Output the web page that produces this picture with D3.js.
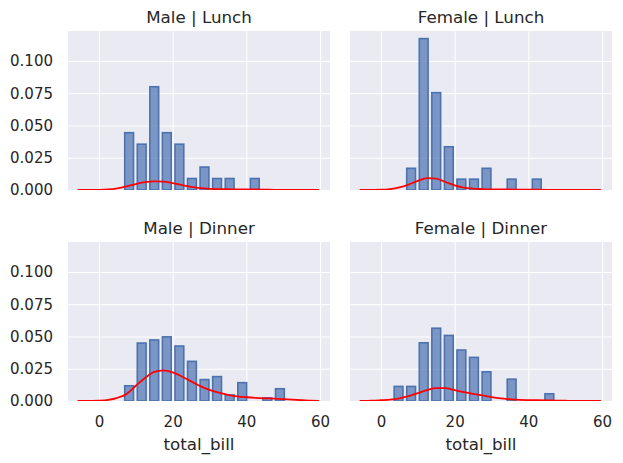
<!DOCTYPE html>
<html>
<head>
<meta charset="utf-8">
<script src="https://cdn.jsdelivr.net/npm/d3@7"></script>
<style>
  body { margin: 0; background: #fff; }
  svg { font-family: "DejaVu Sans", sans-serif; }
</style>
</head>
<body>
<script>
// facets: sex x time
var sexes = ["Male", "Female"];
var times = ["Lunch", "Dinner"];

// shared histogram bin edges for total_bill
var binEdges = [3.07, 6.48, 9.89, 13.30, 16.71, 20.12, 23.53, 26.94, 30.35, 33.76, 37.17, 40.58, 43.99, 47.40, 50.81];

// density of each bin, per facet
var maleLunch    = [0, 0.0444, 0.0355, 0.0800, 0.0444, 0.0355, 0.0089, 0.0178, 0.0089, 0.0089, 0, 0.0089, 0, 0];
var femaleLunch  = [0, 0.0168, 0.1173, 0.0754, 0.0335, 0.0084, 0.0084, 0.0168, 0, 0.0084, 0, 0.0084, 0, 0];
var maleDinner   = [0, 0.0118, 0.0449, 0.0473, 0.0497, 0.0426, 0.0307, 0.0166, 0.0189, 0.0047, 0.0142, 0, 0.0024, 0.0095];
var femaleDinner = [0.0113, 0.0113, 0.0451, 0.0564, 0.0508, 0.0395, 0.0338, 0.0226, 0, 0.0169, 0, 0, 0.0056, 0];

var kdeX = [-5.8, -2.5, 0, 2.5, 5, 7.5, 10, 12.5, 15, 17.5, 20, 22.5, 25, 27.5, 30, 32.5, 35, 37.5, 40, 42.5, 45, 47.5, 50, 52.5, 55, 57.5, 59.7];
var kdeMaleLunch    = [0, 0.00005, 0.0001, 0.0004, 0.0013, 0.0028, 0.0046, 0.0061, 0.0067, 0.0065, 0.0054, 0.0038, 0.0024, 0.0014, 0.0009, 0.0007, 0.0006, 0.0005, 0.0004, 0.0004, 0.0003, 0.0001, 0.00005, 0, 0, 0, 0];
var kdeFemaleLunch  = [0, 0.0001, 0.0002, 0.0007, 0.0020, 0.0042, 0.0070, 0.0092, 0.0088, 0.0062, 0.0036, 0.0018, 0.0010, 0.0007, 0.0005, 0.0004, 0.0004, 0.0003, 0.0003, 0.0002, 0.0001, 0.00005, 0, 0, 0, 0, 0];
var kdeMaleDinner   = [0, 0.0001, 0.0003, 0.0009, 0.0025, 0.0055, 0.0118, 0.0178, 0.0225, 0.0237, 0.0222, 0.0190, 0.0152, 0.0115, 0.0086, 0.0064, 0.0048, 0.0036, 0.0029, 0.0024, 0.0021, 0.0019, 0.0015, 0.0010, 0.0006, 0.0003, 0.0001];
var kdeFemaleDinner = [0.00003, 0.0002, 0.0006, 0.0011, 0.0021, 0.0037, 0.0061, 0.0085, 0.0100, 0.0100, 0.0084, 0.0068, 0.0055, 0.0043, 0.0030, 0.0020, 0.0014, 0.0009, 0.0007, 0.0006, 0.0005, 0.0003, 0.0002, 0.0001, 0.00005, 0, 0];

var xTicks = [0, 20, 40, 60];
var yTicks = [0, 0.025, 0.05, 0.075, 0.1];
var xLabel = "total_bill";

var hist = { Male: { Lunch: maleLunch, Dinner: maleDinner }, Female: { Lunch: femaleLunch, Dinner: femaleDinner } };
var kde  = { Male: { Lunch: kdeMaleLunch, Dinner: kdeMaleDinner }, Female: { Lunch: kdeFemaleLunch, Dinner: kdeFemaleDinner } };

var colX = [68, 350], rowY = [31, 242];
var w = 262, h = 159;
var textColor = "#262626";

var svg = d3.select("body").append("svg").attr("width", 623).attr("height", 463);

var x = d3.scaleLinear().domain([-8.4, 62.7]).range([0, w]);
var y = d3.scaleLinear().domain([0, 0.1232]).range([h, 0]);

var line = d3.line()
    .x(function(d){ return x(d[0]); })
    .y(function(d){ return y(d[1]); })
    .curve(d3.curveMonotoneX);

var barFrac = 0.7;

times.forEach(function(time, r){
  sexes.forEach(function(sex, c){
    var id = "clip" + r + c;
    var g = svg.append("g").attr("transform", "translate(" + colX[c] + "," + rowY[r] + ")");

    g.append("clipPath").attr("id", id).append("rect").attr("width", w).attr("height", h);
    g.append("rect").attr("width", w).attr("height", h).attr("fill", "#EAEAF2");

    // grid + tick labels
    var ax = g.append("g").attr("transform", "translate(0," + h + ")")
        .call(d3.axisBottom(x).tickValues(xTicks).tickSize(-h).tickPadding(15).tickFormat(d3.format("d")));
    var ay = g.append("g")
        .call(d3.axisLeft(y).tickValues(yTicks).tickSize(-w).tickPadding(15).tickFormat(d3.format(".3f")));
    [ax, ay].forEach(function(a){
      a.select(".domain").remove();
      a.selectAll("line").attr("stroke", "#fff").attr("stroke-width", 1);
      a.selectAll("text").attr("fill", textColor).style("font-size", "15px").style("font-family", "DejaVu Sans");
    });
    if (r === 0) ax.selectAll("text").remove();
    if (c === 1) ay.selectAll("text").remove();

    var plot = g.append("g").attr("clip-path", "url(#" + id + ")");

    // keep the bin edges with each value so empty bins can be skipped
    var bins = hist[sex][time].map(function(v, i){ return { lo: binEdges[i], hi: binEdges[i + 1], v: v }; })
        .filter(function(b){ return b.v > 0; });

    plot.selectAll("rect.bar").data(bins).enter()
      .append("rect").attr("class", "bar")
      .attr("x", function(b){
        var mid = (b.lo + b.hi) / 2, bw = b.hi - b.lo;
        return x(mid - bw * barFrac / 2);
      })
      .attr("width", function(b){ return (x(b.hi) - x(b.lo)) * barFrac; })
      .attr("y", function(b){ return y(b.v); })
      .attr("height", function(b){ return h - y(b.v); })
      .attr("fill", "#4C72B0").attr("fill-opacity", 0.7)
      .attr("stroke", "#4C72B0").attr("stroke-width", 1.6);

    var pts = kdeX.map(function(v, i){ return [v, kde[sex][time][i]]; });
    plot.append("path").attr("d", line(pts))
      .attr("fill", "none").attr("stroke", "red").attr("stroke-width", 1.8);

    g.append("text").attr("x", w / 2).attr("y", -8.5).attr("text-anchor", "middle")
      .attr("fill", textColor).style("font-size", "16.7px")
      .text(sex + " | " + time);

    if (r === 1) {
      g.append("text").attr("x", w / 2).attr("y", h + 49).attr("text-anchor", "middle")
        .attr("fill", textColor).style("font-size", "16.7px").text(xLabel);
    }
  });
});
</script>
</body>
</html>
